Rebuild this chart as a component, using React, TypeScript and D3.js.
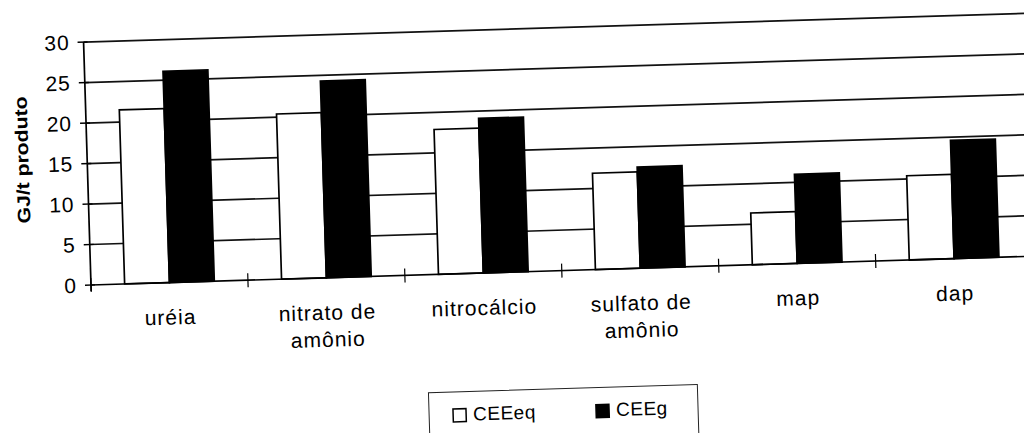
import * as d3 from "d3";

// categories (with the line breaks used under the axis)
const CATEGORIES = ["uréia", "nitrato de amônio", "nitrocálcio", "sulfato de amônio", "map", "dap"];
const CATEGORY_LINES = [["uréia"], ["nitrato de", "amônio"], ["nitrocálcio"], ["sulfato de", "amônio"], ["map"], ["dap"]];
const SERIES = ["CEEeq", "CEEg"];
const CEE_EQ = [21.5, 20.4, 17.9, 11.9, 6.4, 10.4];
const CEE_G = [26.1, 24.3, 19.1, 12.5, 11.0, 14.6];
const Y_TICKS = [0, 5, 10, 15, 20, 25, 30];

const W = 1024, H = 433;
const ORIGIN = { x: 91, y: 285 }; // where 0 meets the value axis
const PLOT_W = 942, PLOT_H = 243;
const TILT = -1.75; // the scanned page is slightly rotated
const FONT = "'Liberation Sans', Arial, sans-serif";

export default function App() {
  const x = d3.scaleBand<string>().domain(CATEGORIES).range([0, PLOT_W]);
  const xs = d3.scaleBand<string>().domain(SERIES).range([0, x.bandwidth()]).paddingOuter(0.75);
  const y = d3.scaleLinear().domain([0, 30]).range([0, -PLOT_H]);
  const fills: Record<string, string> = { CEEeq: "#fff", CEEg: "#000" };
  const values: Record<string, number[]> = { CEEeq: CEE_EQ, CEEg: CEE_G };

  return (
    <div style={{ position: "absolute", left: 0, top: 0 }}>
      <svg width={W} height={H} style={{ display: "block", background: "#fff" }}>
        <g transform={`translate(${ORIGIN.x},${ORIGIN.y}) rotate(${TILT})`} fontFamily={FONT}>
          {/* gridlines */}
          {Y_TICKS.filter(v => v > 0).map(v => (
            <line key={v} x1={0} x2={PLOT_W + 30} y1={y(v)} y2={y(v)} stroke="#111" strokeWidth={1.7} />
          ))}

          {/* bars */}
          {CATEGORIES.map((c, i) =>
            SERIES.map(s => {
              const v = values[s][i];
              return (
                <rect key={c + s} x={(x(c) ?? 0) + (xs(s) ?? 0)} y={y(v)} width={xs.bandwidth()} height={-y(v)}
                  fill={fills[s]} stroke="#000" strokeWidth={1.7} />
              );
            })
          )}

          {/* axes */}
          <line x1={0} x2={PLOT_W + 30} y1={0} y2={0} stroke="#000" strokeWidth={1.7} />
          <line x1={0} x2={0} y1={y(30)} y2={6} stroke="#000" strokeWidth={1.7} />
          {Y_TICKS.map(v => (
            <g key={v}>
              <line x1={-6} x2={4} y1={y(v)} y2={y(v)} stroke="#000" strokeWidth={1.4} />
              <text x={-14} y={y(v)} dy="0.35em" textAnchor="end" fontSize={21} letterSpacing={1} fill="#000">{v}</text>
            </g>
          ))}
          {d3.range(CATEGORIES.length + 1).map(i => (
            <line key={i} x1={i * x.step()} x2={i * x.step()} y1={-7} y2={7} stroke="#000" strokeWidth={1.2} />
          ))}
          {CATEGORIES.map((c, i) => (
            <text key={c} x={(x(c) ?? 0) + x.bandwidth() / 2} y={42} textAnchor="middle" fontSize={21}
              letterSpacing={1} fill="#000">
              {CATEGORY_LINES[i].map((ln, j) => (
                <tspan key={j} x={(x(c) ?? 0) + x.bandwidth() / 2} y={42 + j * 27}>{ln}</tspan>
              ))}
            </text>
          ))}

          {/* axis title */}
          <text transform="translate(-65,-127) rotate(-90)" textAnchor="middle" dy="0.35em" fontSize={18}
            fontWeight="bold" textLength={127} lengthAdjust="spacingAndGlyphs" fill="#000">GJ/t produto</text>

          {/* legend */}
          <rect x={334} y={118} width={269} height={50} fill="none" stroke="#222" strokeWidth={1} />
          {SERIES.map((s, i) => (
            <g key={s} transform={`translate(${358 + i * 143},135)`}>
              <rect width={13} height={13} fill={fills[s]} stroke="#000" strokeWidth={1.5} />
              <text x={20} y={12} fontSize={19} letterSpacing={0.5} fill="#000">{s}</text>
            </g>
          ))}
        </g>
      </svg>
    </div>
  );
}
